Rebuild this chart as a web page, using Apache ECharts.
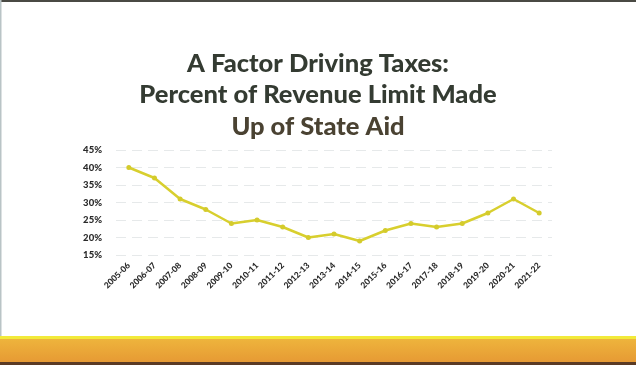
<!DOCTYPE html>
<html>
<head>
<meta charset="utf-8">
<script src="https://cdn.jsdelivr.net/npm/echarts@6/dist/echarts.min.js"></script>
<style>
html,body{margin:0;padding:0;background:#fff;}
#chart{width:636px;height:365px;}
</style>
</head>
<body>
<div id="chart"></div>
<script>
// School years on the horizontal axis
const years = ['2005-06','2006-07','2007-08','2008-09','2009-10','2010-11','2011-12','2012-13','2013-14','2014-15','2015-16','2016-17','2017-18','2018-19','2019-20','2020-21','2021-22'];
// Share of the revenue limit covered by state aid (percent)
const stateAidPct = [40, 37, 31, 28, 24, 25, 23, 20, 21, 19, 22, 24, 23, 24, 27, 31, 27];
// Vertical axis range and step (percent)
const yTicks = { min: 15, max: 45, step: 5 };

const chart = echarts.init(document.getElementById('chart'));
const W = 636, H = 365;

chart.setOption({
  backgroundColor: '#ffffff',
  animation: false,
  title: {
    text: '{a|A Factor Driving Taxes:}\n{a|Percent of Revenue Limit Made}\n{b|Up of State Aid}',
    left: 'center',
    top: 43,
    textStyle: {
      rich: {
        a: { fontFamily: 'Lato', fontWeight: 900, fontSize: 25.5, color: '#343b32', lineHeight: 31.5 },
        b: { fontFamily: 'Lato', fontWeight: 900, fontSize: 25.5, color: '#4a4232', lineHeight: 31.5 }
      }
    }
  },
  grid: { left: 116, right: 84, top: 150, bottom: 110, containLabel: false },
  xAxis: {
    type: 'category',
    data: years,
    boundaryGap: true,
    axisLine: { show: false },
    axisTick: { show: false },
    axisLabel: {
      rotate: 45,
      interval: 0,
      margin: 9,
      fontFamily: 'Lato',
      fontWeight: 900,
      fontSize: 8.5,
      color: '#2a2a2a'
    }
  },
  yAxis: {
    type: 'value',
    min: yTicks.min,
    max: yTicks.max,
    interval: yTicks.step,
    axisLine: { show: false },
    axisTick: { show: false },
    axisLabel: {
      formatter: v => v + '%',
      margin: 14,
      fontFamily: 'Lato',
      fontWeight: 900,
      fontSize: 9.5,
      color: '#2a2a2a'
    },
    splitLine: { lineStyle: { color: '#e6e9ea', width: 1, type: [10, 6] } }
  },
  series: [{
    type: 'line',
    data: stateAidPct,
    symbol: 'circle',
    symbolSize: 5,
    lineStyle: { color: '#d8cf2e', width: 2.5 },
    itemStyle: { color: '#d4cb2c' }
  }],
  graphic: [
    { type: 'rect', shape: { x: 0, y: 0, width: W, height: 2 }, style: { fill: '#4a4a44' } },
    { type: 'rect', shape: { x: 0, y: 0, width: 1.5, height: H }, style: { fill: '#b9c4c6' } },
    { type: 'rect', shape: { x: 0, y: 336, width: W, height: 3 }, style: { fill: '#f2ea3a' } },
    { type: 'rect', shape: { x: 0, y: 339, width: W, height: 23 },
      style: { fill: { type: 'linear', x: 0, y: 0, x2: 0, y2: 1,
        colorStops: [{ offset: 0, color: '#eeb43c' }, { offset: 1, color: '#e69a34' }] } } },
    { type: 'rect', shape: { x: 0, y: 362, width: W, height: 3 }, style: { fill: '#5a3a24' } }
  ]
});
</script>
</body>
</html>
